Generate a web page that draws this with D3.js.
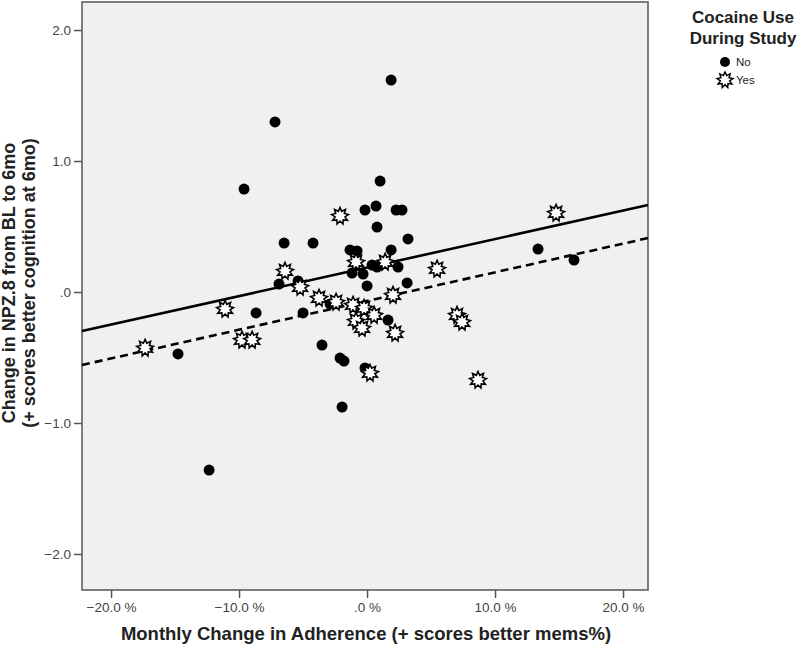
<!DOCTYPE html>
<html><head><meta charset="utf-8">
<script src="https://cdn.jsdelivr.net/npm/d3@7"></script>
<style>body{margin:0;background:#fff}svg{display:block}text{font-family:"Liberation Sans",Arial,sans-serif}</style>
</head><body>
<svg id="chart" width="800" height="645"></svg>
<script>
// Data: x = monthly change in adherence (%), y = change in NPZ.8
const noX = [1.88,-7.19,-9.61,1.02,-0.16,0.70,2.27,2.73,0.78,-6.48,-4.22,3.20,-1.33,-0.78,1.88,0.39,0.78,2.42,-1.17,-0.31,3.13,0.0,-6.88,-5.39,-2.89,-5.0,-8.67,-14.77,1.64,-3.52,-2.11,-1.80,-0.16,-1.95,-12.34,13.36,16.17];
const noY = [1.618,1.298,0.786,0.847,0.626,0.656,0.626,0.626,0.496,0.374,0.374,0.405,0.321,0.313,0.321,0.206,0.191,0.191,0.145,0.137,0.069,0.046,0.061,0.084,-0.092,-0.160,-0.160,-0.473,-0.214,-0.405,-0.504,-0.527,-0.580,-0.878,-1.359,0.328,0.244];
const yesX = [-2.11,-6.41,-5.23,-0.86,1.41,-3.75,-2.42,-1.09,-0.23,0.55,-0.86,-0.39,2.03,2.19,0.23,-11.09,-9.77,-8.98,-17.34,5.47,7.03,7.42,8.67,14.77];
const yesY = [0.580,0.160,0.038,0.229,0.229,-0.046,-0.076,-0.099,-0.122,-0.176,-0.221,-0.275,-0.023,-0.313,-0.618,-0.130,-0.366,-0.366,-0.427,0.176,-0.176,-0.229,-0.672,0.603];
// Fit lines (end points)
const fitNoX = [-22.27, 21.95];
const fitNoY = [-0.298, 0.664];
const fitYesX = [-22.27, 21.95];
const fitYesY = [-0.557, 0.412];
const xTicks = [-20, -10, 0, 10, 20];
const yTicks = [-2, -1, 0, 1, 2];
const legendTitle = ["Cocaine Use", "During Study"];
const legendLabels = ["No", "Yes"];
const xTitle = "Monthly Change in Adherence (+ scores better mems%)";
const yTitle = ["Change in NPZ.8 from BL to 6mo", "(+ scores better cognition at 6mo)"];

const svg = d3.select("#chart");
const L = 82, R = 648, T = 2, B = 590;
const x = d3.scaleLinear().domain([-22.27, 21.95]).range([L, R]);
const y = d3.scaleLinear().domain([-2.275, 2.214]).range([B, T]);

svg.append("rect").attr("x", L).attr("y", T).attr("width", R - L).attr("height", B - T)
  .attr("fill", "#f0f0f0");

const fmt = v => v === 0 ? ".0" : d3.format(".1f")(v);
const xAxis = svg.append("g").attr("transform", `translate(0,${B})`)
  .call(d3.axisBottom(x).tickValues(xTicks).tickSize(8).tickPadding(4).tickFormat(v => fmt(v) + " %"));
const yAxis = svg.append("g").attr("transform", `translate(${L},0)`)
  .call(d3.axisLeft(y).tickValues(yTicks).tickSize(8).tickPadding(3).tickFormat(fmt));
[xAxis, yAxis].forEach(g => {
  g.select(".domain").remove();
  g.selectAll(".tick line").attr("stroke", "#555").attr("stroke-width", 1.5);
  g.selectAll(".tick text").attr("fill", "#444").style("font-size", "13.5px");
});

svg.append("rect").attr("x", L).attr("y", T).attr("width", R - L).attr("height", B - T)
  .attr("fill", "none").attr("stroke", "#555").attr("stroke-width", 1.5);

const plot = svg.append("g");
const line = d3.line().x(d => x(d[0])).y(d => y(d[1]));
plot.append("path").datum(d3.zip(fitNoX, fitNoY)).attr("d", line)
  .attr("stroke", "#000").attr("stroke-width", 2.6).attr("fill", "none");
plot.append("path").datum(d3.zip(fitYesX, fitYesY)).attr("d", line)
  .attr("stroke", "#000").attr("stroke-width", 2.6).attr("fill", "none").attr("stroke-dasharray", "8,5");

function starPath(ro, ri, n) {
  const pts = [];
  for (let i = 0; i < 2 * n; i++) {
    const a = Math.PI * i / n - Math.PI / 2;
    const r = i % 2 === 0 ? ro : ri;
    pts.push([r * Math.cos(a), r * Math.sin(a)]);
  }
  return "M" + pts.map(p => p.join(",")).join("L") + "Z";
}
const star = starPath(8.5, 5, 9);

plot.selectAll(".no").data(d3.zip(noX, noY)).join("circle")
  .attr("cx", d => x(d[0])).attr("cy", d => y(d[1])).attr("r", 5.5).attr("fill", "#000");
plot.selectAll(".yes").data(d3.zip(yesX, yesY)).join("path")
  .attr("d", star).attr("transform", d => `translate(${x(d[0])},${y(d[1])})`)
  .attr("fill", "#fff").attr("stroke", "#000").attr("stroke-width", 1.6);

// axis titles
svg.append("text").attr("x", 366).attr("y", 640).attr("text-anchor", "middle")
  .style("font-size", "18.5px").style("font-weight", "bold").attr("fill", "#222").text(xTitle);
const yt = svg.append("g").attr("transform", `translate(0,283) rotate(-90)`);
yTitle.forEach((t, i) => yt.append("text").attr("x", 0).attr("y", 15 + i * 19.5)
  .attr("text-anchor", "middle").style("font-size", "18px").style("font-weight", "bold")
  .attr("fill", "#222").text(t));

// legend
legendTitle.forEach((t, i) => svg.append("text").attr("x", 743).attr("y", 23 + i * 21)
  .attr("text-anchor", "middle").style("font-size", "17px").style("font-weight", "bold")
  .attr("fill", "#222").text(t));
const lg = svg.append("g");
legendLabels.forEach((t, i) => {
  const cy = 62 + i * 18;
  if (i === 0) lg.append("circle").attr("cx", 725).attr("cy", cy).attr("r", 5).attr("fill", "#000");
  else lg.append("path").attr("d", starPath(8, 4.7, 9)).attr("transform", `translate(725,${cy})`)
    .attr("fill", "#fff").attr("stroke", "#000").attr("stroke-width", 1.5);
  lg.append("text").attr("x", 736).attr("y", cy + 4).style("font-size", "11.5px").attr("fill", "#222").text(t);
});
</script>
</body></html>
